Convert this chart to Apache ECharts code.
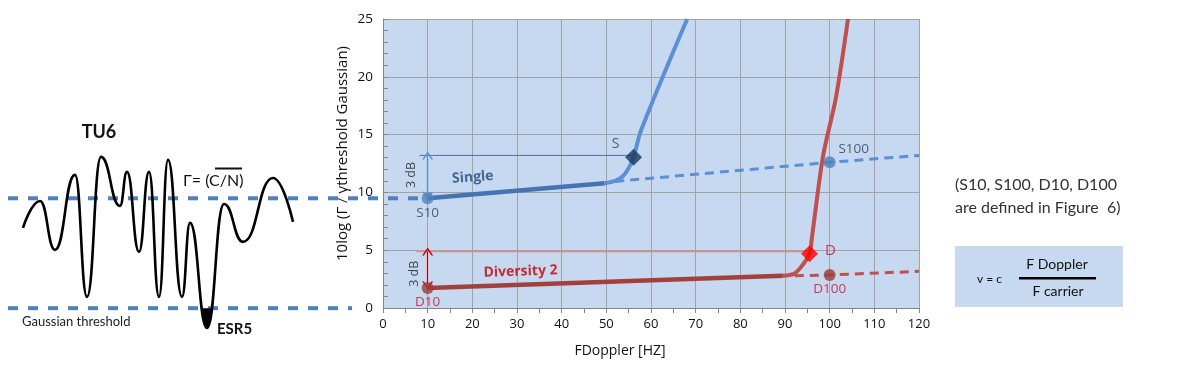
<!DOCTYPE html>
<html><head><meta charset="utf-8">
<script src="https://cdn.jsdelivr.net/npm/echarts@6/dist/echarts.min.js"></script>
<style>html,body{margin:0;padding:0;background:#fff}#c{width:1180px;height:366px}</style>
</head><body><div id="c"></div>
<script>
// ---- illustration (left): fading waveform, abstract units (x) and dB-like level (y)
const waveXY = [[23,6.94],[40,9.27],[55,5.04],[75,11.52],[87,0.98],[101,13.08],[120,8.84],[127,11.78],[139,4.87],[149,11.78],[159,0.98],[168,12.82],[182,0.98],[190,7.37],[207,-1.71],[224,9.01],[243,5.73],[273,11.26],[293,7.46]];
const esrDip = [[201.7,0],[204,-1.1],[207,-1.71],[210,-1.1],[212.3,0]];
const gammaLevel = [[8,9.5],[427,9.5]];
const gaussLevel = [[8,0],[352,0]];

// ---- main chart data
const singleLow = [[10,9.5],[49.6,10.8]];
const singleHigh = [[49.6,10.8],[52,11.0],[53.7,11.4],[55,12.1],[56.1,13.05],[57.8,15.4],[68.1,25]];
const singleExtrap = [[52,10.95],[100,12.6],[120,13.2]];
const divLow = [[10,1.73],[89.5,2.79]];
const divHigh = [[89.5,2.79],[92,2.95],[93.7,3.6],[95.5,4.69],[96,6],[98.5,13.1],[101.4,18.2],[104.1,25]];
const divExtrap = [[92.2,2.78],[100,2.86],[120,3.17]];
const sRef = [[8.2,13.2],[56.1,13.2]];
const dRef = [[7.5,4.89],[95.5,4.89]];
const sArrow = [[10,13.2],[10,9.7]];
const dArrow = [[10,4.89],[10,1.95]];
const sCircles = [{name:'S10',value:[10,9.5]},{name:'S100',value:[100,12.6]}];
const dCircles = [{name:'D10',value:[10,1.73]},{name:'D100',value:[100,2.86]}];
const sDiamond = [{name:'S',value:[56.1,13.05]}];
const dDiamond = [{name:'D',value:[95.5,4.69]}];
const singleName = [{name:'Single',value:[20.1,11.3]}];
const divName = [{name:'Diversity 2',value:[30.8,3.15]}];
const dbNames = [{name:'3 dB',value:[6.4,11.5]},{name:'3 dB',value:[7.1,2.96]}];
const xTickStep = 10, yTickStep = 5;

const chart = echarts.init(document.getElementById('c'));
const FONT = 'Open Sans';
const arrowHead = 'path://M0,10 L5,0 L10,10 L8.4,10 L5,3.2 L1.6,10 Z';

function lbl(pos, color, extra){return Object.assign({show:true,position:pos,formatter:'{b}',color:color,fontFamily:FONT,fontSize:13},extra||{});}

chart.setOption({
  animation:false,
  grid:[
    {left:383,top:19,width:536,height:289,show:true,backgroundColor:'#C6D9F0',borderWidth:0},
    {left:0,top:19,width:427,height:347,show:false}
  ],
  xAxis:[
    {gridIndex:0,type:'value',min:0,max:120,interval:xTickStep,
     axisLine:{lineStyle:{color:'#868686'}},
     axisTick:{show:true,length:5,lineStyle:{color:'#868686'}},
     minorTick:{show:true,splitNumber:2,length:5,lineStyle:{color:'#868686'}},
     splitLine:{show:true,lineStyle:{color:'#A3A3A3',width:1}},
     axisLabel:{color:'#111',fontFamily:FONT,fontSize:13,margin:10},
     name:'FDoppler [HZ]',nameLocation:'middle',nameGap:36,
     nameTextStyle:{color:'#111',fontFamily:FONT,fontSize:14,padding:[0,62,0,0]}},
    {gridIndex:1,type:'value',min:0,max:427,show:false}
  ],
  yAxis:[
    {gridIndex:0,type:'value',min:0,max:25,interval:yTickStep,
     axisLine:{show:true,lineStyle:{color:'#868686'}},
     axisTick:{show:true,inside:true,length:5,lineStyle:{color:'#868686'}},
     minorTick:{show:true,splitNumber:5,length:5,lineStyle:{color:'#868686'}},
     splitLine:{show:true,lineStyle:{color:'#A3A3A3',width:1}},
     axisLabel:{color:'#111',fontFamily:FONT,fontSize:13.5,margin:10},
     name:'10log (Γ / γthreshold Gaussian)',nameLocation:'middle',nameGap:33,
     nameTextStyle:{color:'#111',fontFamily:FONT,fontSize:15,padding:[0,0,0,20]}},
    {gridIndex:1,type:'value',min:-5,max:25,show:false}
  ],
  series:[
    {type:'line',xAxisIndex:1,yAxisIndex:1,data:gammaLevel,symbol:'none',clip:false,
     lineStyle:{color:'#4F81BD',width:4,type:[10,10]},z:2},
    {type:'line',xAxisIndex:1,yAxisIndex:1,data:gaussLevel,symbol:'none',clip:false,
     lineStyle:{color:'#4F81BD',width:4,type:[10,10]},z:2},
    {type:'line',xAxisIndex:1,yAxisIndex:1,data:esrDip,symbol:'none',smooth:0.4,
     lineStyle:{width:0},areaStyle:{color:'#000',origin:0,opacity:1},z:3},
    {type:'line',xAxisIndex:1,yAxisIndex:1,data:waveXY,symbol:'none',smooth:0.5,smoothMonotone:'x',
     lineStyle:{color:'#000',width:2.6},z:3},

    {type:'line',data:sRef,symbol:'none',lineStyle:{color:'#4A6FA5',width:1},z:3},
    {type:'line',data:dRef,symbol:'none',lineStyle:{color:'#D98C8C',width:1.5},z:3},
    {type:'line',data:singleExtrap,symbol:'none',lineStyle:{color:'#5B8FD6',width:3,type:[9,6]},z:3},
    {type:'line',data:divExtrap,symbol:'none',lineStyle:{color:'#C0504D',width:3,type:[9,6]},z:3},
    {type:'line',data:singleHigh,symbol:'none',smooth:0.3,lineStyle:{color:'#5B8FD6',width:4},z:4},
    {type:'line',data:singleLow,symbol:'none',lineStyle:{color:'#4674B2',width:4.5},z:4},
    {type:'line',data:divHigh,symbol:'none',smooth:0.3,lineStyle:{color:'#C0504D',width:4},z:4},
    {type:'line',data:divLow,symbol:'none',lineStyle:{color:'#A3403D',width:4.5},z:4},

    {type:'line',data:[],markLine:{silent:true,symbol:[arrowHead,arrowHead],symbolSize:[11,8],
      lineStyle:{color:'#5F8FCB',width:1.4,type:'solid'},label:{show:false},
      data:[[{coord:sArrow[0]},{coord:sArrow[1]}]]},z:5},
    {type:'line',data:[],markLine:{silent:true,symbol:[arrowHead,arrowHead],symbolSize:[11,8],
      lineStyle:{color:'#C00000',width:1.2,type:'solid'},label:{show:false},
      data:[[{coord:dArrow[0]},{coord:dArrow[1]}]]},z:5},

    {type:'scatter',data:sCircles,symbol:'circle',symbolSize:12,itemStyle:{color:'#4F81BD'},z:6,
     label:lbl('bottom','#243F60',{distance:2,fontSize:13.5}),
     labelLayout:function(p){ if(p.dataIndex===1){return {x:p.rect.x+30,y:p.rect.y-14,align:'center'};} return {}; }},
    {type:'scatter',data:dCircles,symbol:'circle',symbolSize:12,itemStyle:{color:'#9E3B39'},z:6,
     label:lbl('bottom','#C8102E',{distance:1,fontSize:13.5})},
    {type:'scatter',data:sDiamond,symbol:'diamond',symbolSize:[17,17],itemStyle:{color:'#17375E'},z:6,
     label:lbl('top','#243F60',{distance:2,offset:[-18,4],fontSize:14})},
    {type:'scatter',data:dDiamond,symbol:'diamond',symbolSize:[17,17],itemStyle:{color:'#FF0000'},z:6,
     label:lbl('right','#C8102E',{distance:5,offset:[2,-3],fontSize:15})},

    {type:'scatter',data:singleName,symbolSize:0,z:7,itemStyle:{color:'transparent'},
     label:{show:true,position:'inside',formatter:'{b}',rotate:4,fontFamily:FONT,fontSize:14,fontWeight:'bold',color:'#1F497D'}},
    {type:'scatter',data:divName,symbolSize:0,z:7,itemStyle:{color:'transparent'},
     label:{show:true,position:'inside',formatter:'{b}',rotate:2,fontFamily:FONT,fontSize:14,fontWeight:'bold',color:'#C00000'}},
    {type:'scatter',data:dbNames,symbolSize:0,z:7,itemStyle:{color:'transparent'},
     label:{show:true,position:'inside',formatter:'{b}',rotate:90,fontFamily:FONT,fontSize:12.5,color:'#222'}}
  ],
  graphic:[
    {type:'text',x:99,y:132,style:{text:'TU6',font:'bold 18px Lato',fill:'#111',align:'center',verticalAlign:'middle',textAlign:'center',textVerticalAlign:'middle'}},
    {type:'text',x:183,y:181,style:{text:'Γ= (C/N)',font:'16px Lato',fill:'#111',align:'left',verticalAlign:'middle',textAlign:'left',textVerticalAlign:'middle'}},
    {type:'rect',shape:{x:215,y:167.5,width:27,height:2},style:{fill:'#111'}},
    {type:'text',x:22,y:322,style:{text:'Gaussian threshold',font:'13px Lato',fill:'#222',align:'left',verticalAlign:'middle',textAlign:'left',textVerticalAlign:'middle'}},
    {type:'text',x:217,y:329,style:{text:'ESR5',font:'bold 15px Lato',fill:'#111',align:'left',verticalAlign:'middle',textAlign:'left',textVerticalAlign:'middle'}},
    {type:'text',x:955,y:185,style:{text:'(S10, S100, D10, D100',font:'16px Lato',fill:'#333',align:'left',verticalAlign:'middle',textAlign:'left',textVerticalAlign:'middle'}},
    {type:'text',x:955,y:208,style:{text:'are defined in Figure  6)',font:'16px Lato',fill:'#333',align:'left',verticalAlign:'middle',textAlign:'left',textVerticalAlign:'middle'}},
    {type:'rect',shape:{x:955,y:246,width:168,height:61},style:{fill:'#C6D9F0'}},
    {type:'text',x:977,y:279,style:{text:'v = c',font:'12px Lato',fill:'#111',align:'left',verticalAlign:'middle',textAlign:'left',textVerticalAlign:'middle'}},
    {type:'text',x:1057,y:264,style:{text:'F Doppler',font:'14px Lato',fill:'#111',align:'center',verticalAlign:'middle',textAlign:'center',textVerticalAlign:'middle'}},
    {type:'rect',shape:{x:1019,y:277,width:77,height:2.5},style:{fill:'#000'}},
    {type:'text',x:1058,y:291,style:{text:'F carrier',font:'14px Lato',fill:'#111',align:'center',verticalAlign:'middle',textAlign:'center',textVerticalAlign:'middle'}}
  ]
});
</script></body></html>
